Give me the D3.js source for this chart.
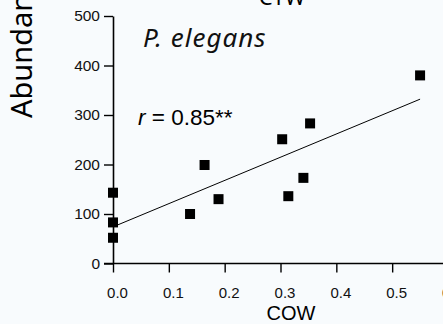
<!DOCTYPE html>
<html>
<head>
<meta charset="utf-8">
<script src="https://cdn.jsdelivr.net/npm/d3@7"></script>
<style>
  body { margin: 0; background: #f8fbfd; }
  svg { display: block; }
</style>
</head>
<body>
<script>
// data
var cow = [0, 0, 0, 0.138, 0.164, 0.189, 0.303, 0.314, 0.341, 0.353, 0.55];
var abundance = [143, 83, 52, 100, 199, 130, 251, 136, 173, 283, 380];
var fitX = [0, 0.55];
var fitY = [74, 332];
var xTicks = [0, 0.1, 0.2, 0.3, 0.4, 0.5, 0.6];
var yTicks = [0, 100, 200, 300, 400, 500];

var w = 443, h = 324;

var x = d3.scaleLinear().domain([0, 0.6]).range([113, 448]);
var y = d3.scaleLinear().domain([0, 500]).range([263.5, 16]);

var svg = d3.select("body").append("svg")
    .attr("width", w)
    .attr("height", h);

// y axis
var yAxis = svg.append("g")
    .attr("transform", "translate(" + x(0) + ",0)")
    .call(d3.axisLeft(y).tickValues(yTicks).tickSize(9).tickSizeOuter(0).tickPadding(4));
yAxis.select(".domain").attr("stroke-width", 1.6);
yAxis.selectAll(".tick line").attr("stroke-width", 1.4);
yAxis.selectAll("text")
    .style("font-family", "Liberation Sans, Arial, sans-serif")
    .style("font-size", "15.5px")
    .attr("fill", "#111");

// x axis
var xAxis = svg.append("g")
    .attr("transform", "translate(0," + y(0) + ")")
    .call(d3.axisBottom(x).tickValues(xTicks).tickSize(9).tickSizeOuter(0).tickPadding(15)
        .tickFormat(d3.format(".1f")));
xAxis.select(".domain").remove();
xAxis.append("line")
    .attr("x1", x(0) - 9).attr("x2", w)
    .attr("stroke", "#000").attr("stroke-width", 1.6);
xAxis.selectAll(".tick line").attr("stroke-width", 1.4);
xAxis.selectAll("text")
    .attr("dx", 4)
    .style("font-family", "Liberation Sans, Arial, sans-serif")
    .style("font-size", "15px")
    .attr("fill", "#111");

// regression line
svg.append("line")
    .attr("x1", x(fitX[0])).attr("y1", y(fitY[0]))
    .attr("x2", x(fitX[1])).attr("y2", y(fitY[1]))
    .attr("stroke", "#000")
    .attr("stroke-width", 1);

// points
var s = 10;
svg.selectAll(".pt")
    .data(cow)
    .enter()
    .append("rect")
    .attr("class", "pt")
    .attr("x", function(d) { return x(d) - s / 2; })
    .attr("y", function(d, i) { return y(abundance[i]) - s / 2; })
    .attr("width", s)
    .attr("height", s)
    .attr("fill", "#000");

// labels
svg.append("text")
    .attr("x", 282).attr("y", 5)
    .attr("text-anchor", "middle")
    .style("font-family", "Noto Sans, sans-serif")
    .style("font-size", "22px")
    .text("CTW");

svg.append("text")
    .attr("transform", "translate(32,118) rotate(-90)")
    .style("font-family", "Noto Sans, sans-serif")
    .style("font-size", "29px")
    .text("Abundance");

svg.append("text")
    .attr("x", 143).attr("y", 47)
    .style("font-family", "Noto Sans, sans-serif")
    .style("font-style", "italic")
    .style("font-size", "26px")
    .style("letter-spacing", "1px")
    .attr("fill", "#111")
    .text("P. elegans");

var rt = svg.append("text")
    .attr("x", 138).attr("y", 125)
    .style("font-family", "Liberation Sans, Arial, sans-serif")
    .style("font-size", "22.5px");
rt.append("tspan").style("font-style", "italic").text("r");
rt.append("tspan").text(" = 0.85**");

svg.append("text")
    .attr("x", 291).attr("y", 320)
    .attr("text-anchor", "middle")
    .style("font-family", "Liberation Sans, Arial, sans-serif")
    .style("font-size", "20px")
    .text("COW");
</script>
</body>
</html>
